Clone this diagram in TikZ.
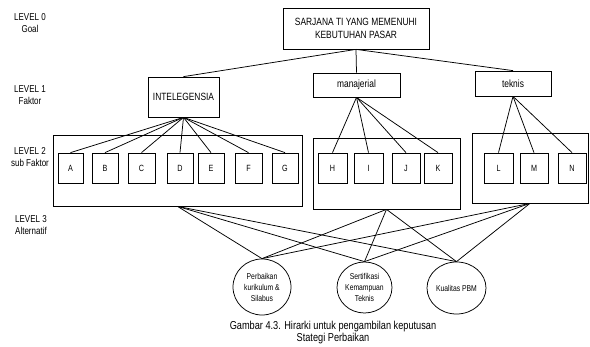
\documentclass[tikz,border=0pt]{standalone}
\usepackage{fontspec}
\setmainfont{Liberation Sans}[FakeStretch=0.8]
\usetikzlibrary{shapes.geometric}
\begin{document}
\begin{tikzpicture}[x=1pt,y=-1pt,line width=0.75pt,
  box/.style={draw,rectangle,inner sep=0pt,align=center},
  sub/.style={box,minimum height=30pt,font=\fontsize{9}{10}\selectfont},
  alt/.style={draw,ellipse,inner sep=0pt,align=center,font=\fontsize{8.5}{11}\selectfont},
  lvl/.style={align=center,inner sep=0pt,font=\fontsize{10}{12.5}\selectfont},
  lnk/.style={line width=0.75pt}]
\useasboundingbox (0,0) rectangle (590,347);
% level labels
\node[lvl] (l0) at (30,23) {LEVEL 0\\Goal};
\node[lvl] (l1) at (30,95) {LEVEL 1\\Faktor};
\node[lvl] (l2) at (30,157) {LEVEL 2\\sub Faktor};
\node[lvl] (l3) at (31,225) {LEVEL 3\\Alternatif};
% goal
\node[box,minimum width=146pt,minimum height=41pt,font=\fontsize{10.5}{13.5}\selectfont] (goal) at (356,28.5) {SARJANA TI YANG MEMENUHI\\KEBUTUHAN PASAR};
% factors
\node[box,minimum width=71pt,minimum height=40pt,font=\fontsize{10.5}{12}\selectfont] (intel) at (183.5,97) {INTELEGENSIA};
\node[box,minimum width=87pt,minimum height=24pt,font=\fontsize{10.5}{12}\selectfont] (man) at (356.5,85) {manajerial};
\node[box,minimum width=76pt,minimum height=25pt,font=\fontsize{10.5}{12}\selectfont] (tek) at (513,83.5) {teknis};
% containers
\node[box,minimum width=249pt,minimum height=71pt] (g1) at (177.5,170.5) {};
\node[box,minimum width=147pt,minimum height=71pt] (g2) at (386.5,173.5) {};
\node[box,minimum width=116pt,minimum height=70pt] (g3) at (530,168) {};
% sub factors
\node[sub,minimum width=25pt] (A) at (70.5,168) {A};
\node[sub,minimum width=26pt] (B) at (105,168) {B};
\node[sub,minimum width=27pt] (C) at (141.5,168) {C};
\node[sub,minimum width=26pt] (D) at (180,168) {D};
\node[sub,minimum width=26pt] (E) at (211,168) {E};
\node[sub,minimum width=27pt] (F) at (248.5,168) {F};
\node[sub,minimum width=26pt] (G) at (285,168) {G};
\node[sub,minimum width=29pt] (H) at (332.5,168) {H};
\node[sub,minimum width=29pt] (I) at (368.5,168) {I};
\node[sub,minimum width=28pt] (J) at (406,168) {J};
\node[sub,minimum width=28pt] (K) at (438,168) {K};
\node[sub,minimum width=29pt] (L) at (498.5,168) {L};
\node[sub,minimum width=28pt] (M) at (534,168) {M};
\node[sub,minimum width=28pt] (N) at (572,168) {N};
% alternatives
\node[alt,minimum width=58pt,minimum height=56pt] (p1) at (262,287) {Perbaikan\\kurikulum \&\\Silabus};
\node[alt,minimum width=55pt,minimum height=51pt] (p2) at (364.5,287.5) {Sertifikasi\\Kemampuan\\Teknis};
\node[alt,minimum width=59pt,minimum height=52pt] (p3) at (456.5,288) {Kualitas PBM};
% caption
\node[align=center,inner sep=0pt,font=\fontsize{11.5}{11.5}\selectfont] (cap) at (333,332.5) {Gambar 4.3. Hirarki untuk pengambilan keputusan\\Stategi Perbaikan};
% links
\foreach \t in {intel,man,tek} \draw[lnk] (goal.south) -- (\t.north);
\foreach \t in {A,B,C,D,E,F,G} \draw[lnk] (intel.south) -- (\t.north);
\foreach \t in {H,I,J,K} \draw[lnk] (man.south) -- (\t.north);
\foreach \t in {L,M,N} \draw[lnk] (tek.south) -- (\t.north);
\foreach \s in {g1,g2,g3} \foreach \t in {p1,p2,p3} \draw[lnk] (\s.south) -- (\t.north);
\end{tikzpicture}
\end{document}
